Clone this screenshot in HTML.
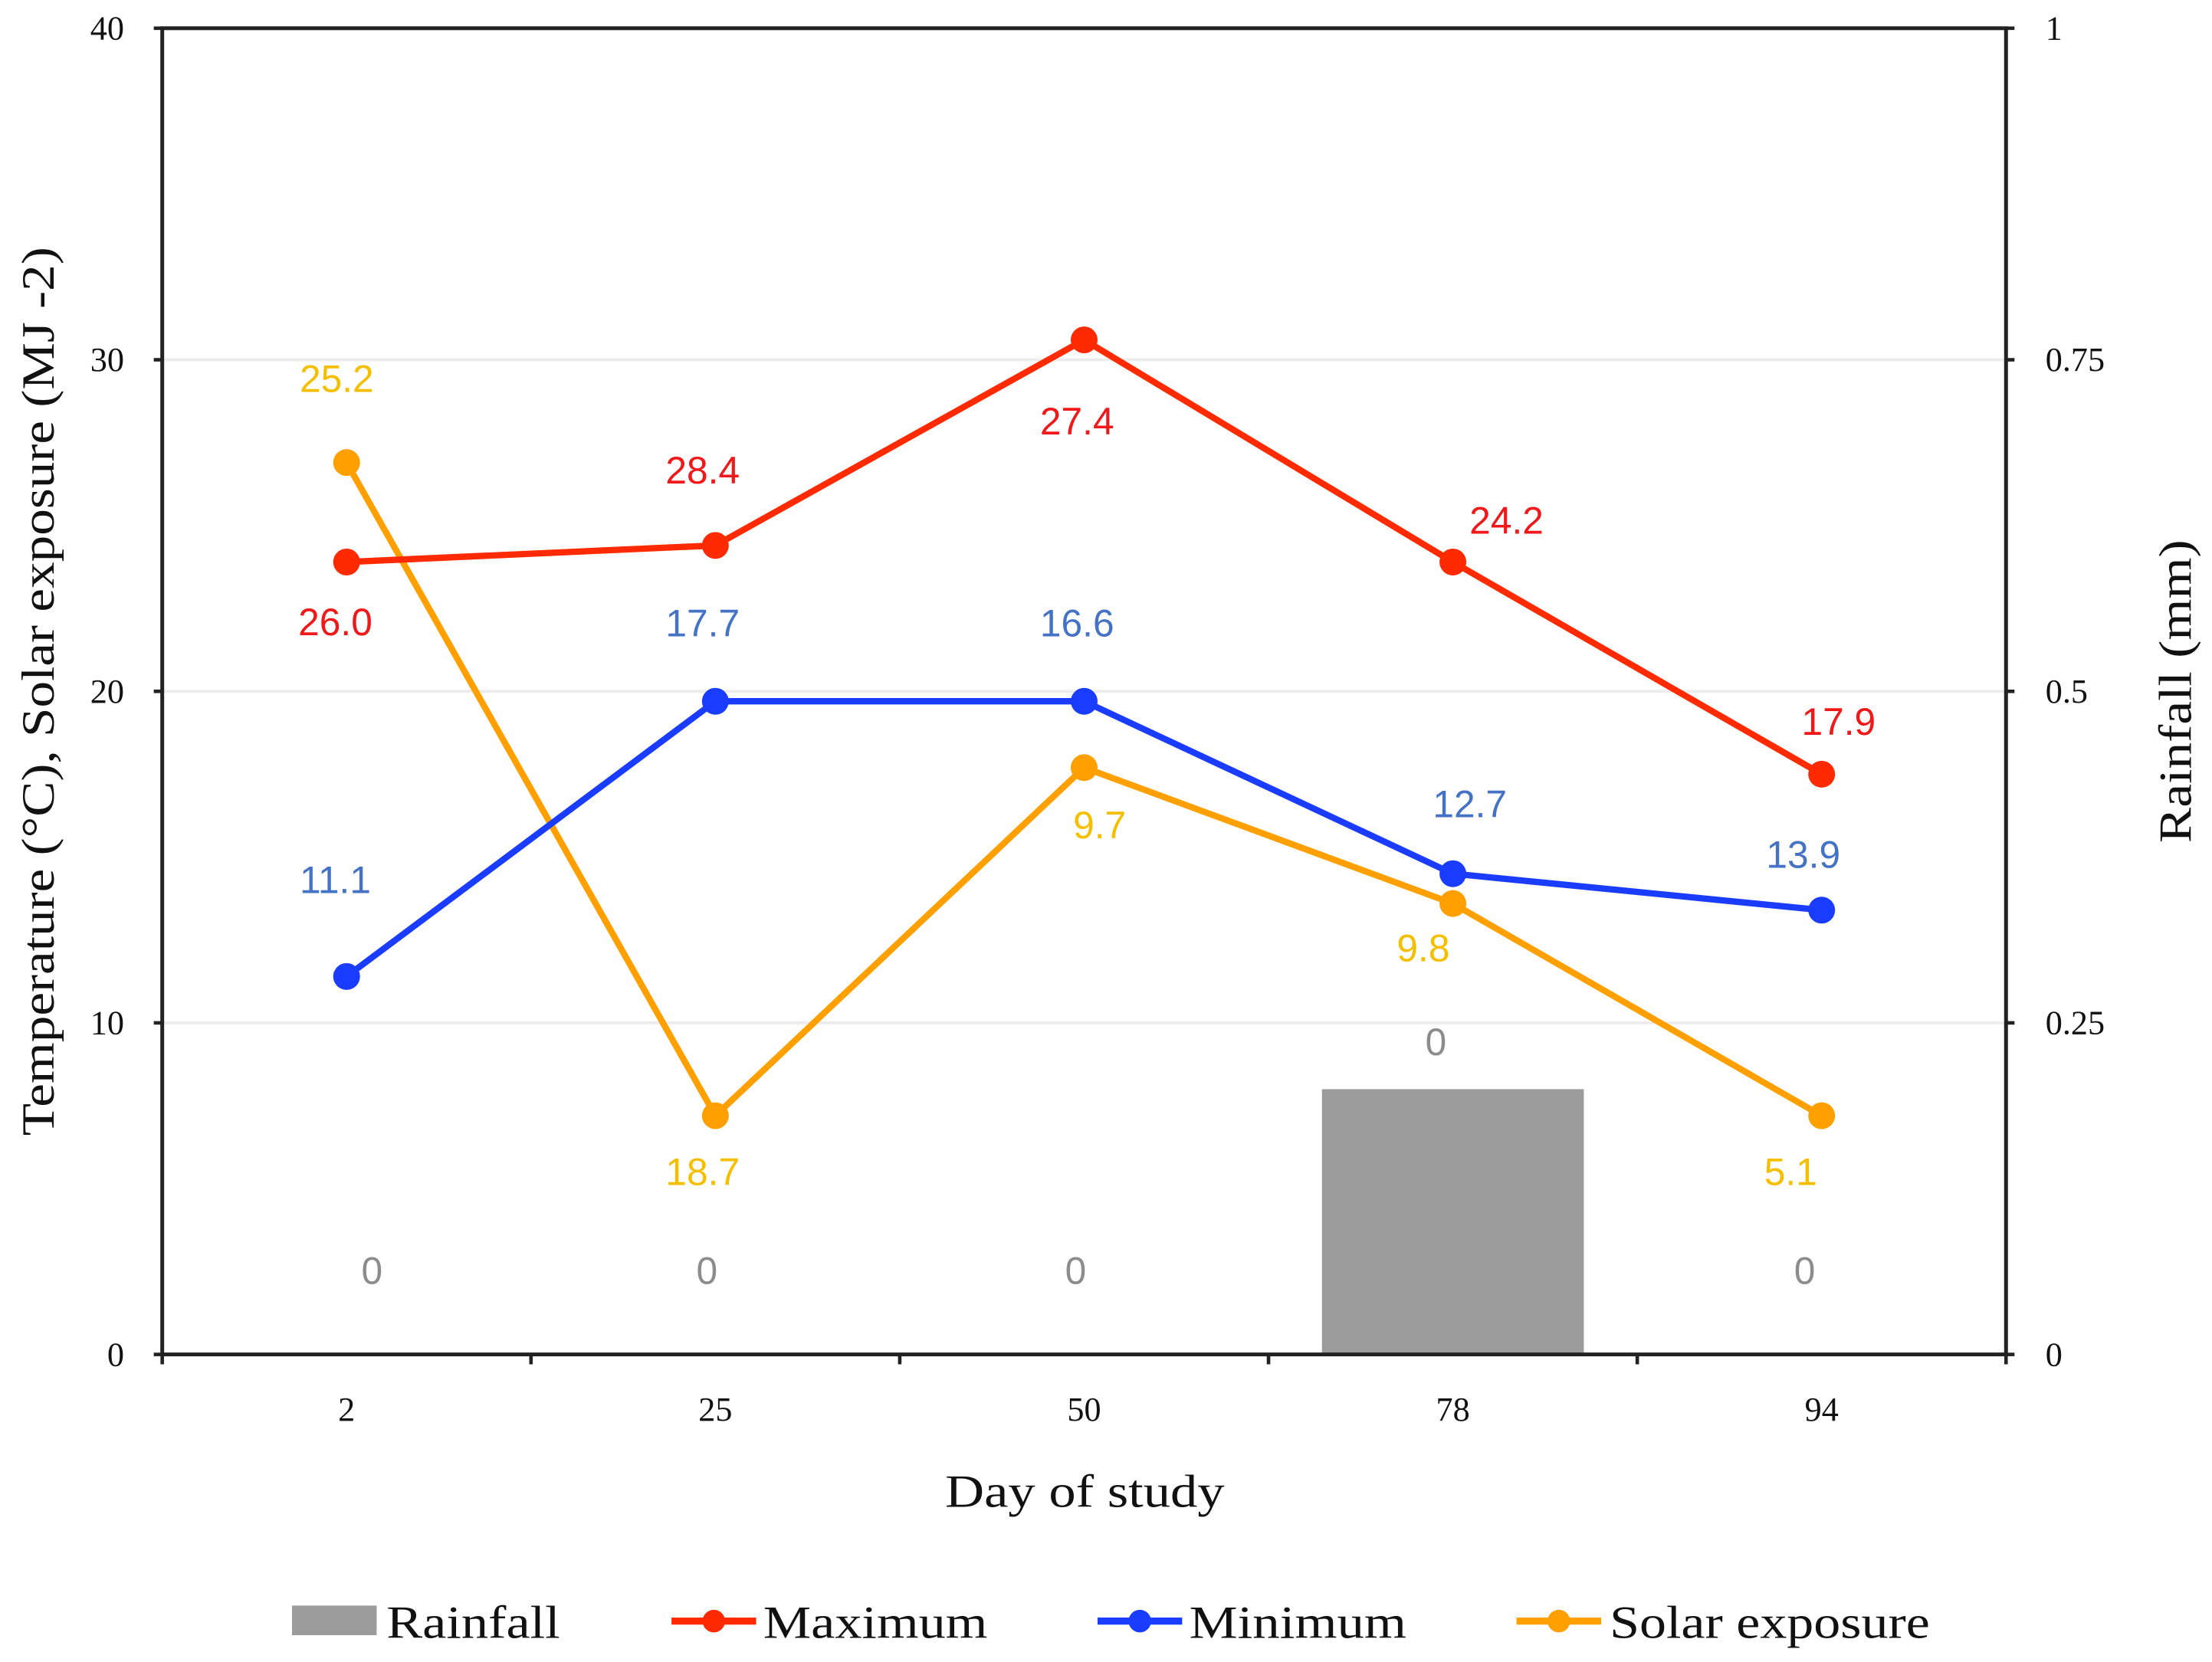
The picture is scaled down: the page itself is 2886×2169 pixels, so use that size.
<!DOCTYPE html>
<html><head><meta charset="utf-8"><style>
html,body{margin:0;padding:0;background:#fff;}
svg{display:block;}
.tick{font-family:"Liberation Serif",serif;font-size:24px;fill:#111;}
.lbl{font-family:"Liberation Sans",sans-serif;font-size:27px;}
.ttl{font-family:"Liberation Serif",serif;font-size:33px;fill:#111;}
</style></head><body>
<svg id="chart" width="2886" height="2169" viewBox="0 0 1568 1178" preserveAspectRatio="none" xmlns="http://www.w3.org/2000/svg">
<g id="grid"></g>
<g id="bars"></g>
<g id="axes"></g>
<g id="series"></g>
<g id="labels"></g>
<text class="ttl" transform="translate(38,490) rotate(-90)" text-anchor="middle" textLength="630" lengthAdjust="spacingAndGlyphs">Temperature (°C), Solar exposure (MJ -2)</text>
<text class="ttl" transform="translate(1553,490) rotate(-90)" text-anchor="middle" textLength="215" lengthAdjust="spacingAndGlyphs">Rainfall (mm)</text>
<text class="ttl" x="769" y="1068" text-anchor="middle" textLength="198" lengthAdjust="spacingAndGlyphs">Day of study</text>
<g>
  <g>
    <rect x="207" y="1138" width="60" height="21" fill="#9b9b9b"/>
    <text class="ttl" x="274" y="1161" textLength="123" lengthAdjust="spacingAndGlyphs">Rainfall</text>
  </g>
  <g>
    <line x1="476" y1="1149" x2="536" y2="1149" stroke="#ff2a00" stroke-width="5"/>
    <circle cx="506" cy="1149" r="8" fill="#ff2a00"/>
    <text class="ttl" x="541" y="1161" textLength="159" lengthAdjust="spacingAndGlyphs">Maximum</text>
  </g>
  <g>
    <line x1="778" y1="1149" x2="838" y2="1149" stroke="#1a3cff" stroke-width="5"/>
    <circle cx="808" cy="1149" r="8" fill="#1a3cff"/>
    <text class="ttl" x="843" y="1161" textLength="154" lengthAdjust="spacingAndGlyphs">Minimum</text>
  </g>
  <g>
    <line x1="1075" y1="1149" x2="1135" y2="1149" stroke="#ffa000" stroke-width="5"/>
    <circle cx="1105" cy="1149" r="8" fill="#ffa000"/>
    <text class="ttl" x="1141" y="1161" textLength="227" lengthAdjust="spacingAndGlyphs">Solar exposure</text>
  </g>
</g>
</svg>
<script>
const categories = ["2","25","50","78","94"];
const maximum = [23.9, 24.4, 30.6, 23.9, 17.5];
const minimum = [11.4, 19.7, 19.7, 14.5, 13.4];
const solar = [26.9, 7.2, 17.7, 13.6, 7.2];
const rainfall = [0, 0, 0, 0.2, 0];
const maxLabels = ["26.0","28.4","27.4","24.2","17.9"];
const minLabels = ["11.1","17.7","16.6","12.7","13.9"];
const solarLabels = ["25.2","18.7","9.7","9.8","5.1"];
const rainLabels = ["0","0","0","0","0"];
const yTicks = [0,10,20,30,40];
const y2Ticks = ["0","0.25","0.5","0.75","1"];

const NS="http://www.w3.org/2000/svg";
const L=115,R=1422,T=20,B=960;
const cw=(R-L)/categories.length;
function xC(i){return L+cw*(i+0.5);}
function yL(v){return B-(v/40)*(B-T);}
function yR(v){return B-(v/1)*(B-T);}
function mk(tag,attrs,parent){const e=document.createElementNS(NS,tag);for(const k in attrs)e.setAttribute(k,attrs[k]);parent.appendChild(e);return e;}
const grid=document.getElementById('grid'),axes=document.getElementById('axes'),bars=document.getElementById('bars'),series=document.getElementById('series'),labels=document.getElementById('labels');

yTicks.forEach((t,i)=>{
  if(t>0&&t<40){const g=mk('line',{x1:L,x2:R,y1:yL(t),y2:yL(t),stroke:'#ececec','stroke-width':2},grid);
  
  }
  const tl=mk('text',{x:L-27,y:yL(t)+8,'text-anchor':'end',class:'tick'},axes);tl.textContent=t;
  
  
  mk('line',{x1:L-6,x2:L,y1:yL(t),y2:yL(t),stroke:'#222','stroke-width':2.5},axes);
  const yy=yR(i/4);
  mk('line',{x1:R,x2:R+6,y1:yy,y2:yy,stroke:'#222','stroke-width':2.5},axes);
  const tr=mk('text',{x:R+28,y:yy+8,class:'tick'},axes);tr.textContent=y2Ticks[i];
  
  
});
mk('rect',{x:L,y:T,width:R-L,height:B-T,fill:'none',stroke:'#222','stroke-width':2.7},axes);
for(let i=0;i<=categories.length;i++){mk('line',{x1:L+cw*i,x2:L+cw*i,y1:B,y2:B+7,stroke:'#222','stroke-width':2.5},axes);}
categories.forEach((c,i)=>{const t=mk('text',{x:xC(i),y:1007,'text-anchor':'middle',class:'tick'},axes);t.textContent=c;
  
  });

rainfall.forEach((v,i)=>{
  const bw=cw*0.71;
  if(v>0){const r=mk('rect',{x:xC(i)-bw/2,y:yR(v),width:bw,height:B-yR(v),fill:'#9b9b9b'},bars);
  
  }
  const ly=v>0?yR(v)-24:yR(v)-50;
  const t=mk('text',{x:xC(i)+(v>0?-12:(i==0?18:i==4?-12:-6)),y:ly,'text-anchor':'middle',class:'lbl',fill:'#8c8c8c'},labels);t.textContent=rainLabels[i];
  
  
});

function drawSeries(vals,color,name,labs,lcolor,offs){
  const pts=vals.map((v,i)=>xC(i)+','+yL(v)).join(' ');
  const pl=mk('polyline',{points:pts,fill:'none',stroke:color,'stroke-width':4.5,'stroke-linejoin':'round'},series);
  
  
  vals.forEach((v,i)=>{
    const c=mk('circle',{cx:xC(i),cy:yL(v),r:9.5,fill:color},series);
    
    
    const t=mk('text',{x:xC(i)+offs[i][0],y:yL(v)+offs[i][1],'text-anchor':'middle',class:'lbl',fill:lcolor},labels);t.textContent=labs[i];
    
    
  });
}
drawSeries(solar,'#ffa000','solar',solarLabels,'#f5bf00',[[-7,-50],[-9,49],[11,50],[-21,41],[-22,49]]);
drawSeries(minimum,'#1a3cff','minimum',minLabels,'#4472c4',[[-8,-59],[-9,-46],[-5,-46],[12,-40],[-13,-30]]);
drawSeries(maximum,'#ff2a00','maximum',maxLabels,'#f01818',[[-8,52],[-9,-44],[-5,67],[38,-20],[12,-28]]);
</script>
</body></html>
